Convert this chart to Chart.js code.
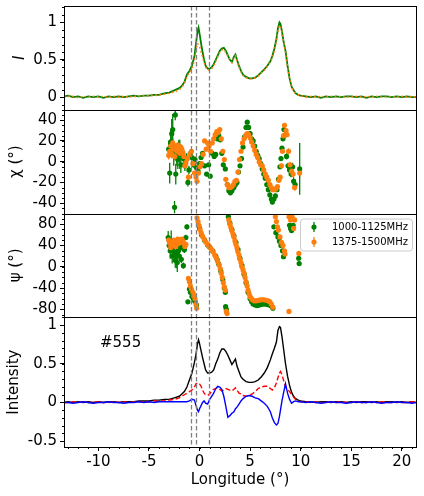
<!DOCTYPE html>
<html>
<head>
<meta charset="utf-8">
<script src="https://cdn.jsdelivr.net/npm/chart.js@4.4.1/dist/chart.umd.min.js"></script>
<style>
  html, body { margin: 0; padding: 0; background: #fff; }
  canvas { display: block; }
</style>
</head>
<body>
<canvas id="c" width="424" height="496"></canvas>
<script>
// profile longitudes (deg)
const lon = [-13.4,-13,-12.5,-12,-11.5,-11,-10.5,-10,-9.5,-9,-8.5,-8,-7.5,-7,-6.5,-6,-5.5,-5,-4.5,-4,-3.5,-3,-2.5,-2,
  -1.75,-1.5,-1.25,-1,-0.75,-0.5,
  -0.35,-0.2,-0.1,0,
  0.15,0.3,0.45,0.6,
  0.8,1.0,1.2,1.4,1.6,1.8,2.0,2.2,2.4,2.6,2.8,3.0,3.2,3.4,
  3.55,3.7,3.9,4.1,4.3,
  4.6,4.9,5.2,5.5,5.8,6.1,6.4,6.7,7.0,
  7.2,7.4,7.6,7.75,7.9,8.0,8.15,8.3,8.5,8.7,8.9,9.1,9.3,9.5,9.75,10,
  10.5,11,11.5,12,12.5,13,13.5,14,14.5,15,15.5,16,16.5,17,17.5,18,18.5,19,19.5,20,20.5,21,21.4];

// top panel: normalised I in the two bands
const iLow = [0.01,0.02,0.00,0.01,-0.01,0.01,0.00,0.01,-0.01,0.01,0.00,0.01,0.00,0.01,0.02,0.01,0.02,0.02,0.03,0.03,0.05,0.06,0.09,0.12,
  0.15,0.2,0.3,0.35,0.42,0.55,
  0.72,0.88,0.93,0.85,
  0.72,0.6,0.5,0.42,
  0.38,0.38,0.4,0.44,0.5,0.56,0.62,0.65,0.66,0.62,0.56,0.5,0.47,0.54,
  0.57,0.5,0.42,0.35,0.3,
  0.27,0.25,0.25,0.26,0.29,0.33,0.37,0.42,0.48,
  0.55,0.65,0.78,0.92,1.0,0.98,0.88,0.75,0.62,0.42,0.25,0.14,0.09,0.05,0.03,0.02,
  0.01,0.00,0.01,-0.01,0.01,0.00,0.01,0.00,0.01,0.01,0.00,0.01,-0.01,0.01,0.00,0.01,0.01,0.00,0.01,0.00,0.01,0.00,0.00];
const iHigh = [0.00,0.01,0.01,-0.01,0.01,0.00,0.01,0.00,0.01,0.00,0.01,0.00,0.01,0.00,0.01,0.01,0.02,0.02,0.02,0.03,0.04,0.05,0.07,0.10,
  0.13,0.18,0.27,0.33,0.38,0.5,
  0.62,0.72,0.7,0.68,
  0.6,0.54,0.46,0.4,
  0.36,0.36,0.38,0.42,0.48,0.54,0.6,0.63,0.64,0.6,0.55,0.5,0.46,0.52,
  0.55,0.48,0.4,0.34,0.29,
  0.26,0.25,0.24,0.26,0.28,0.32,0.36,0.41,0.47,
  0.53,0.62,0.75,0.88,0.96,0.95,0.86,0.74,0.6,0.4,0.24,0.13,0.08,0.05,0.03,0.02,
  0.00,0.01,0.00,0.01,0.00,0.01,0.00,0.01,0.00,0.00,0.01,0.00,0.01,0.00,0.01,0.00,0.00,0.01,0.00,0.01,0.00,0.01,0.00];

// bottom panel: total intensity, linear and circular polarisation
const stokesI = [0.00,0.01,0.00,0.01,0.00,0.01,0.00,0.01,0.00,0.01,0.01,0.00,0.01,0.01,0.01,0.02,0.02,0.02,0.03,0.03,0.04,0.04,0.06,0.08,
  0.11,0.14,0.2,0.29,0.38,0.52,
  0.62,0.76,0.81,0.76,
  0.67,0.58,0.5,0.42,
  0.38,0.38,0.39,0.42,0.5,0.56,0.64,0.69,0.69,0.66,0.61,0.55,0.49,0.53,
  0.56,0.47,0.4,0.33,0.3,
  0.27,0.26,0.26,0.27,0.29,0.33,0.38,0.45,0.55,
  0.63,0.7,0.78,0.93,0.98,0.97,0.85,0.7,0.5,0.34,0.22,0.13,0.08,0.05,0.03,0.02,
  0.01,0.01,0.00,0.01,0.01,0.00,0.01,0.01,0.00,0.01,0.00,0.01,0.01,0.00,0.01,0.00,0.01,0.01,0.00,0.01,0.00,0.01,0.00];
const linPol = [0.00,0.00,0.01,0.00,0.01,0.00,0.00,0.01,0.00,0.00,0.01,0.00,0.01,0.00,0.01,0.01,0.01,0.01,0.02,0.02,0.02,0.03,0.04,0.06,
  0.08,0.1,0.12,0.14,0.16,0.2,
  0.24,0.25,0.25,0.24,
  0.21,0.16,0.12,0.1,
  0.09,0.11,0.15,0.17,0.18,0.19,0.17,0.15,0.16,0.18,0.17,0.16,0.15,0.17,
  0.19,0.16,0.12,0.11,0.09,
  0.08,0.09,0.11,0.14,0.18,0.2,0.21,0.21,0.18,
  0.16,0.19,0.25,0.32,0.38,0.4,0.36,0.29,0.2,0.17,0.14,0.1,0.07,0.04,0.02,0.01,
  0.01,0.00,0.01,0.00,0.00,0.01,0.00,0.01,0.00,0.00,0.01,0.00,0.00,0.01,0.00,0.01,0.00,0.00,0.01,0.00,0.00,0.01,0.00];
const circPol = [0.00,0.00,-0.01,0.00,0.01,0.00,-0.01,0.00,0.00,0.01,0.00,0.00,-0.01,0.00,0.00,0.01,0.00,0.01,0.00,0.01,0.01,0.01,0.01,0.01,
  0.01,0.01,0.01,0.02,0.04,0.03,
  -0.04,-0.1,-0.12,-0.08,
  -0.04,0.0,0.02,-0.01,
  -0.02,0.04,0.08,0.12,0.18,0.21,0.2,0.17,0.08,-0.05,-0.19,-0.17,-0.14,-0.12,
  -0.08,-0.06,-0.02,0.02,0.05,
  0.08,0.09,0.08,0.06,0.05,0.02,-0.01,-0.05,-0.12,
  -0.2,-0.26,-0.29,-0.27,-0.18,-0.1,0.02,0.12,0.24,0.12,0.04,-0.01,0.01,0.02,0.01,0.01,
  0.00,0.01,0.00,-0.01,0.00,0.01,0.00,0.00,-0.01,0.00,0.01,0.00,0.00,0.01,0.00,-0.01,0.00,0.00,0.01,0.00,0.00,-0.01,0.00];

// [longitude, angle, error] in degrees
const chiLow = [[-3.05,12,8],[-2.95,-11,10],[-2.85,19,12],[-2.75,27,14],[-2.65,31,15],[-2.55,8,12],[-2.47,-44,6],[-2.4,45,5],
  [-2.35,-12,10],[-2.25,6,10],[-2.15,2,9],[-2.05,13,8],[-1.95,7,14],[-1.85,-3,8],[-1.75,10,6],[-1.6,3,5],[-1.45,-4,5],
  [-1.3,2,6],[-1.15,-20,4],[-1.05,-8,4],[-0.9,8,3],[-0.75,4,3],[-0.6,-3,3],[-0.45,2,3],[-0.3,-6,2],[-0.15,-9,2],[0,-2,2],
  [0.15,4,2],[0.3,8,2],[0.5,-4,2],[0.7,-12,2],[0.9,-3,2],[1.05,-14,2],[1.25,8,2],[1.45,5,2],[1.6,7,2],[1.75,22,2],[1.9,25,2],
  [2.05,21,2],[2.2,8,2],[2.35,-3,2],[2.55,-7,2],[2.75,-22,2],[2.9,-28,2],[3.05,-30,2],[3.2,-28,2],[3.4,-25,2],[3.55,-22,2],
  [3.7,-20,2],[3.85,-10,2],[4.0,-4,2],[4.15,3,2],[4.3,14,2],[4.45,24,2],[4.6,33,2],[4.72,38,2],[4.85,33,2],[5.0,27,2],
  [5.15,22,2],[5.3,20,2],[5.45,15,2],[5.6,10,2],[5.75,6,2],[5.9,3,2],[6.05,-2,2],[6.2,-7,2],[6.35,-12,2],[6.5,-16,2],
  [6.65,-22,2],[6.8,-27,2],[6.95,-32,2],[7.1,-36,2],[7.2,-39,2],[7.35,-36,2],[7.5,-33,2],[7.65,-27,2],[7.8,-17,2],
  [7.95,-5,2],[8.05,3,2],[8.15,13,2],[8.25,22,2],[8.35,31,2],[8.5,26,3],[8.6,5,3],[8.75,-4,3],[8.9,-8,3],[9.05,-12,3],
  [9.2,-5,4],[9.3,-19,4],[9.45,-22,5],[9.9,-7,25]];
const chiHigh = [[-3.05,6,4],[-2.95,10,4],[-2.85,15,4],[-2.75,7,4],[-2.65,18,4],[-2.55,12,4],[-2.45,5,4],[-2.35,14,4],
  [-2.25,10,3],[-2.15,16,3],[-2.05,12,3],[-1.95,8,3],[-1.85,14,3],[-1.75,12,3],[-1.65,9,3],[-1.55,5,3],[-1.45,-4,3],
  [-1.35,-1,3],[-1.2,3,3],[-1.1,-15,3],[-0.95,7,2],[-0.8,10,2],[-0.65,-2,2],[-0.5,-11,2],[-0.35,-15,2],[-0.25,-19,2],
  [-0.1,-11,2],[0.05,-5,2],[0.2,-2,2],[0.35,7,2],[0.5,20,2],[0.65,12,2],[0.8,18,2],[0.95,15,2],[1.1,10,2],[1.25,18,2],
  [1.4,22,2],[1.55,26,2],[1.7,29,2],[1.85,28,2],[2.0,31,2],[2.15,22,2],[2.3,10,2],[2.45,2,2],[2.6,-17,2],[2.75,-22,2],
  [2.9,-25,2],[3.05,-25,2],[3.2,-24,2],[3.35,-22,2],[3.5,-19,2],[3.65,-18,2],[3.8,-10,2],[3.95,2,2],[4.1,10,2],[4.25,18,2],
  [4.4,22,2],[4.55,25,2],[4.7,27,2],[4.85,26,2],[5.0,23,2],[5.15,19,2],[5.3,15,2],[5.45,11,2],[5.6,7,2],[5.75,4,2],
  [5.9,0,2],[6.05,-3,2],[6.2,-4,2],[6.35,-8,2],[6.5,-12,2],[6.65,-15,2],[6.8,-18,2],[6.95,-22,2],[7.1,-25,2],[7.25,-27,2],
  [7.4,-27,2],[7.55,-26,2],[7.7,-24,2],[7.85,-18,2],[7.97,-15,2],[8.1,-4,2],[8.2,10,2],[8.3,25,2],[8.4,35,2],[8.55,30,2],
  [8.65,26,2],[8.8,10,3],[8.95,-3,3],[9.1,-9,3],[9.25,-12,3],[9.4,-25,3],[9.9,-11,4]];
const psiLow = [[-3.1,55,12],[-3.0,40,10],[-2.9,30,15],[-2.8,48,20],[-2.7,20,14],[-2.6,38,12],[-2.5,28,18],[-2.4,12,14],
  [-2.3,22,25],[-2.2,8,18],[-2.1,30,10],[-2.0,20,8],[-1.9,35,8],[-1.8,14,7],[-1.7,40,6],[-1.6,2,6],[-1.5,32,6],[-1.35,55,5],
  [-1.25,75,5],[-1.15,-66,3],[-1.0,-42,3],[-0.9,-48,3],[-0.75,-56,3],[-0.6,-62,3],[-0.45,-65,3],[-0.3,-72,3],[0.0,72,2],
  [0.2,60,2],[0.5,50,2],[0.8,41,2],[1.0,37,2],[1.3,30,2],[1.6,20,2],[1.75,13,2],[1.9,5,2],[2.1,-8,2],[2.3,-24,2],[2.45,-40,2],
  [2.55,-48,2],[2.58,-75,3],[2.65,-80,3],[2.85,94,2],[3.0,82,2],[3.2,70,2],[3.4,58,2],[3.6,46,2],[3.8,32,2],[4.0,16,2],
  [4.2,2,2],[4.4,-14,2],[4.6,-30,2],[4.8,-48,2],[5.0,-60,2],[5.15,-66,2],[5.3,-70,2],[5.5,-72,2],[5.7,-73,2],[5.9,-72,2],
  [6.1,-71,2],[6.3,-70,2],[6.5,-70,2],[6.7,-71,2],[6.9,-72,2],[7.1,-74,2],[7.25,-78,2],[7.35,75,3],[7.55,64,3],[7.75,56,3],
  [7.9,48,3],[8.05,40,3],[8.2,30,3],[8.3,19,3],[8.9,78,3],[9.0,72,3],[9.1,68,3],[9.25,78,3],[9.8,16,4],[9.85,6,4]];
const psiHigh = [[-3.05,50,4],[-2.95,44,4],[-2.85,36,4],[-2.75,40,4],[-2.65,46,4],[-2.55,50,4],[-2.45,42,4],[-2.35,38,4],
  [-2.25,48,3],[-2.15,52,3],[-2.05,44,3],[-1.95,50,3],[-1.85,46,3],[-1.75,52,3],[-1.65,48,3],[-1.55,44,3],[-1.45,38,3],
  [-1.35,42,3],[-1.1,-22,3],[-1.0,-28,3],[-0.9,-36,3],[-0.8,-42,3],[-0.65,-48,3],[-0.55,-54,3],[-0.45,-60,3],[-0.35,-70,3],
  [-0.28,-78,3],[-0.25,92,2],[-0.15,85,2],[-0.05,78,2],[0.05,70,2],[0.15,64,2],[0.3,57,2],[0.45,52,2],[0.6,47,2],[0.75,43,2],
  [0.9,40,2],[1.05,36,2],[1.2,32,2],[1.35,28,2],[1.5,22,2],[1.65,17,2],[1.8,10,2],[1.95,3,2],[2.05,-4,2],[2.15,-12,2],
  [2.25,-20,2],[2.35,-30,2],[2.45,-38,2],[2.55,-44,2],[2.65,-84,3],[2.72,-88,3],[2.9,88,2],[3.0,80,2],[3.1,74,2],[3.2,68,2],
  [3.3,62,2],[3.4,56,2],[3.5,49,2],[3.6,42,2],[3.7,36,2],[3.8,28,2],[3.9,22,2],[4.0,14,2],[4.1,8,2],[4.2,0,2],[4.3,-6,2],
  [4.4,-12,2],[4.5,-20,2],[4.6,-28,2],[4.7,-36,2],[4.8,-44,2],[4.9,-51,2],[5.0,-56,2],[5.1,-59,2],[5.25,-62,2],[5.4,-64,2],
  [5.6,-64,2],[5.8,-63,2],[6.0,-62,2],[6.2,-62,2],[6.4,-62,2],[6.6,-63,2],[6.8,-64,2],[6.95,-66,2],[7.1,-70,2],[7.25,-76,2],
  [7.5,94,3],[7.6,85,3],[7.7,75,3],[7.8,69,3],[7.95,56,3],[8.1,46,3],[8.25,40,3],[8.4,30,3],[8.45,24,3],[8.84,-84,3],
  [8.85,94,3],[9.0,88,3],[9.15,94,3],[9.3,72,3],[9.4,88,3],[9.82,25,4]];

const markerLons = [-0.85, -0.36, 0.95];
const bandLabels = ["1000-1125MHz", "1375-1500MHz"];
const pulsarName = "#555";

const xTicks = [-10, -5, 0, 5, 10, 15, 20];
const iTicks = [0, 0.5, 1];
const chiTicks = [-40, -20, 0, 20, 40];
const psiTicks = [-80, -40, 0, 40, 80];
const intTicks = [-0.5, 0, 0.5, 1];

const GREEN = "#008000", ORANGE = "#ff7f0e";
const FONT = "'DejaVu Sans', sans-serif";

function line(xs, ys) { return xs.map((x, i) => ({ x, y: ys[i] })); }
function pts(rows) { return rows.map(r => ({ x: r[0], y: r[1] })); }

function scatterSet(label, rows, color, axis, order) {
  return {
    label, data: pts(rows), err: rows.map(r => r[2]), yAxisID: axis, order,
    showLine: false, pointRadius: 2.6, pointHoverRadius: 2.6,
    backgroundColor: color, borderColor: color, pointBorderWidth: 0
  };
}

function noPad(s) { s.paddingTop = 0; s.paddingBottom = 0; s.paddingLeft = 0; s.paddingRight = 0; }

function yAxis(min, max, ticks, title, weight, stackWeight, titlePad, minor, italic) {
  return {
    type: "linear", position: "left", stack: "panels", stackWeight, weight,
    min, max, minorStep: minor,
    afterBuildTicks: s => { s.ticks = ticks.map(v => ({ value: v })); },
    afterFit: s => { s.width = 64; noPad(s); },
    ticks: { color: "#000", font: { family: FONT, size: 15 }, padding: 3, autoSkip: false,
      callback: v => String(v) },
    grid: { drawOnChartArea: false, tickLength: 4, color: "#000", tickWidth: 1 },
    border: { color: "#000", width: 1 },
    title: { display: true, text: title, color: "#000", padding: { top: titlePad, bottom: 0 },
      font: { family: FONT, size: 15, style: italic ? "italic" : "normal" } }
  };
}

const panelsPlugin = {
  id: "panels",
  beforeDatasetsDraw(chart) {
    const { ctx, chartArea: a, scales } = chart;
    chart.data.datasets.forEach((ds, i) => {
      if (!ds.err) return;
      const ys = scales[ds.yAxisID];
      const meta = chart.getDatasetMeta(i);
      ctx.save();
      ctx.beginPath();
      ctx.rect(a.left, ys.top, a.right - a.left, ys.bottom - ys.top);
      ctx.clip();
      ctx.strokeStyle = ds.borderColor;
      ctx.lineWidth = 1.3;
      meta.data.forEach((p, j) => {
        const v = ds.data[j].y, e = ds.err[j];
        ctx.beginPath();
        ctx.moveTo(p.x, ys.getPixelForValue(v - e));
        ctx.lineTo(p.x, ys.getPixelForValue(v + e));
        ctx.stroke();
      });
      ctx.restore();
    });
  },
  afterDatasetsDraw(chart) {
    const { ctx, chartArea: a, scales } = chart;
    // dashed component markers
    ctx.save();
    ctx.strokeStyle = "#808080";
    ctx.lineWidth = 1.3;
    ctx.setLineDash([4.5, 2.5]);
    markerLons.forEach(v => {
      const x = Math.round(scales.x.getPixelForValue(v)) + 0.5;
      ctx.beginPath();
      ctx.moveTo(x, a.top);
      ctx.lineTo(x, a.bottom);
      ctx.stroke();
    });
    ctx.restore();

    // legend in the psi panel
    const ys = scales.y3;
    const w = 112, h = 32, lx = a.right - 4 - w, ly = ys.top + 5;
    ctx.save();
    ctx.fillStyle = "rgba(255,255,255,0.8)";
    ctx.strokeStyle = "#cccccc";
    ctx.lineWidth = 1;
    ctx.beginPath();
    ctx.roundRect(lx + 0.5, ly + 0.5, w, h, 3);
    ctx.fill();
    ctx.stroke();
    [GREEN, ORANGE].forEach((c, k) => {
      const cy = ly + 8.5 + k * 15;
      const cx = lx + 14;
      ctx.strokeStyle = c;
      ctx.fillStyle = c;
      ctx.lineWidth = 1.3;
      ctx.beginPath();
      ctx.moveTo(cx, cy - 5);
      ctx.lineTo(cx, cy + 5);
      ctx.stroke();
      ctx.beginPath();
      ctx.arc(cx, cy, 2.6, 0, Math.PI * 2);
      ctx.fill();
      ctx.fillStyle = "#000";
      ctx.font = "10px " + FONT;
      ctx.textBaseline = "middle";
      ctx.textAlign = "left";
      ctx.fillText(bandLabels[k], lx + 32, cy);
    });
    ctx.restore();

    // pulsar label
    ctx.save();
    ctx.fillStyle = "#000";
    ctx.font = "15px " + FONT;
    ctx.textBaseline = "middle";
    ctx.fillText(pulsarName, a.left + 36, scales.y4.top + 26);
    ctx.restore();
  },
  afterDraw(chart) {
    const { ctx, chartArea: a, scales } = chart;
    ctx.save();
    ctx.strokeStyle = "#000";
    ctx.lineWidth = 1;
    // minor ticks
    ["y1", "y2", "y3", "y4"].forEach(id => {
      const s = scales[id], step = s.options.minorStep;
      for (let v = Math.ceil(s.min / step) * step; v <= s.max + 1e-9; v += step) {
        const y = Math.round(s.getPixelForValue(v)) + 0.5;
        ctx.beginPath();
        ctx.moveTo(a.left - 2, y);
        ctx.lineTo(a.left, y);
        ctx.stroke();
      }
    });
    const sx = scales.x, xs = sx.options.minorStep;
    for (let v = Math.ceil(sx.min / xs) * xs; v <= sx.max + 1e-9; v += xs) {
      const x = Math.round(sx.getPixelForValue(v)) + 0.5;
      ctx.beginPath();
      ctx.moveTo(x, a.bottom);
      ctx.lineTo(x, a.bottom + 2);
      ctx.stroke();
    }
    // panel frames
    const l = Math.round(a.left) + 0.5, r = Math.round(a.right) + 0.5;
    ["y1", "y2", "y3", "y4"].forEach(id => {
      const s = scales[id];
      const t = Math.round(s.top) + 0.5, b = Math.round(s.bottom) + 0.5;
      ctx.strokeRect(l, t, r - l, b - t);
    });
    ctx.restore();
  }
};

new Chart(document.getElementById("c"), {
  type: "scatter",
  data: {
    datasets: [
      { label: "I high", data: line(lon, iHigh), yAxisID: "y1", order: 0, showLine: true, pointRadius: 0,
        borderColor: ORANGE, borderWidth: 1.6, borderDash: [1.6, 2.6], fill: false },
      { label: "I low", data: line(lon, iLow), yAxisID: "y1", order: 1, showLine: true, pointRadius: 0,
        borderColor: GREEN, borderWidth: 1.8, fill: false },
      scatterSet(bandLabels[1], chiHigh, ORANGE, "y2", 0),
      scatterSet(bandLabels[0], chiLow, GREEN, "y2", 1),
      scatterSet(bandLabels[1], psiHigh, ORANGE, "y3", 0),
      scatterSet(bandLabels[0], psiLow, GREEN, "y3", 1),
      { label: "V", data: line(lon, circPol), yAxisID: "y4", order: 0, showLine: true, pointRadius: 0,
        borderColor: "#0000ff", borderWidth: 1.4, fill: false },
      { label: "L", data: line(lon, linPol), yAxisID: "y4", order: 1, showLine: true, pointRadius: 0,
        borderColor: "#ff0000", borderWidth: 1.4, borderDash: [5, 2.5], fill: false },
      { label: "I", data: line(lon, stokesI), yAxisID: "y4", order: 2, showLine: true, pointRadius: 0,
        borderColor: "#000000", borderWidth: 1.4, fill: false }
    ]
  },
  options: {
    responsive: false,
    animation: false,
    devicePixelRatio: 1,
    layout: { padding: { left: 0, right: 8, top: 6, bottom: 0 } },
    plugins: { legend: { display: false }, tooltip: { enabled: false } },
    scales: {
      x: {
        type: "linear", min: -13.4, max: 21.4, minorStep: 1,
        afterBuildTicks: s => { s.ticks = xTicks.map(v => ({ value: v })); },
        afterFit: s => { s.height = 49; noPad(s); },
        ticks: { color: "#000", font: { family: FONT, size: 15 }, padding: 2, maxRotation: 0, autoSkip: false,
          callback: v => String(v) },
        grid: { drawOnChartArea: false, tickLength: 4, color: "#000" },
        border: { color: "#000", width: 1 },
        title: { display: true, text: "Longitude (°)", color: "#000", font: { family: FONT, size: 15 },
          padding: { top: 0, bottom: 7 } }
      },
      y1: yAxis(-0.17, 1.22, iTicks, "I", 4, 1, 11, 0.1, true),
      y2: yAxis(-50, 50, chiTicks, "χ (°)", 3, 1, 7, 5, false),
      y3: yAxis(-95, 100, psiTicks, "ψ (°)", 2, 1, 7, 10, false),
      y4: yAxis(-0.575, 1.10, intTicks, "Intensity", 1, 1.25, 5, 0.1, false)
    }
  },
  plugins: [panelsPlugin]
});
</script>
</body>
</html>
